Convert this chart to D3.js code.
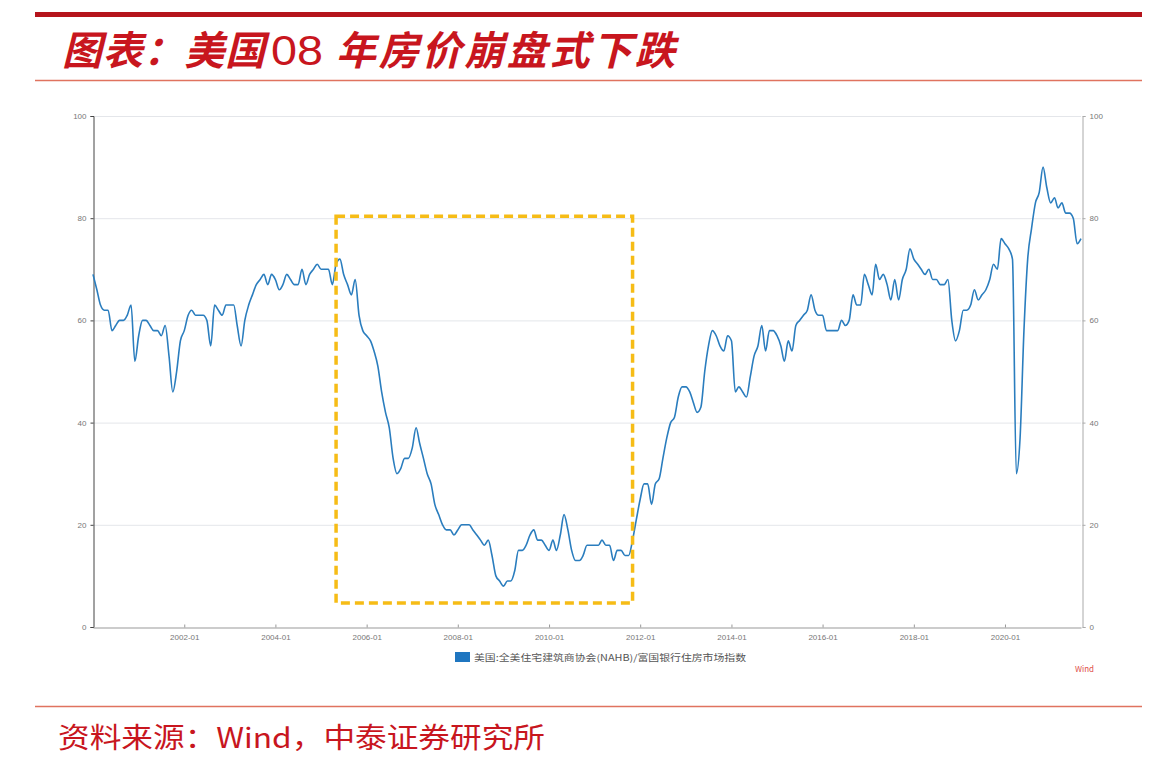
<!DOCTYPE html>
<html>
<head>
<meta charset="utf-8">
<script src="https://cdn.jsdelivr.net/npm/d3@7"></script>
<style>
  body { margin: 0; background: #fff; }
  svg { display: block; font-family: "Noto Sans CJK SC", "Noto Sans", sans-serif; }
</style>
</head>
<body>
<svg id="chart" width="1172" height="764"></svg>
<script>
// NAHB/Wells Fargo housing market index, monthly from 2000-01
const startMonth = "2000-01";
const hmi = [
  69, 66, 63, 62, 62, 58, 59, 60, 60, 61, 63, 52,
  57, 60, 60, 59, 58, 58, 57, 59, 53, 46, 50, 56,
  58, 61, 62, 61, 61, 61, 60, 55, 63, 62, 61, 63,
  63, 63, 59, 55, 60, 63, 65, 67, 68, 69, 67, 69,
  68, 66, 67, 69, 68, 67, 67, 70, 67, 69, 70, 71,
  70, 70, 70, 67, 71, 72, 69, 67, 65, 68, 61, 58,
  57, 56, 54, 51, 46, 42, 39, 33, 30, 31, 33, 33,
  35, 39, 36, 33, 30, 28, 24, 22, 20, 19, 19, 18,
  19, 20, 20, 20, 19, 18, 17, 16, 17, 14, 10, 9,
  8, 9, 9, 11, 15, 15, 16, 18, 19, 17, 17, 16,
  15, 17, 15, 18, 22, 19, 15, 13, 13, 14, 16, 16,
  16, 16, 17, 16, 16, 13, 15, 15, 14, 14, 17, 21,
  25, 28, 28, 24, 28, 29, 33, 37, 40, 41, 45, 47,
  47, 46, 44, 42, 43, 50, 55, 58, 57, 55, 54, 57,
  56, 46, 47, 46, 45, 49, 53, 55, 59, 54, 58, 58,
  57, 55, 52, 56, 54, 59, 60, 61, 62, 65, 62, 61,
  61, 58, 58, 58, 58, 60, 59, 60, 65, 63, 63, 69,
  67, 65, 71, 68, 69, 67, 64, 68, 64, 68, 70, 74,
  72, 71, 70, 69, 70, 68, 68, 67, 67, 68, 60, 56,
  58, 62, 62, 63, 66, 64, 65, 66, 68, 71, 70, 76,
  75, 74, 72, 30, 37, 58, 72, 78, 83, 85, 90, 86,
  83, 84, 82, 83, 81, 81, 80, 75, 76
];
const xTickLabels = ["2002-01", "2004-01", "2006-01", "2008-01", "2010-01",
                     "2012-01", "2014-01", "2016-01", "2018-01", "2020-01"];
const yTicks = [0, 20, 40, 60, 80, 100];
const boxMonths = ["2005-05", "2011-11"];
const boxValues = [80.4, 4.7];
const seriesName = "美国:全美住宅建筑商协会(NAHB)/富国银行住房市场指数";

const svg = d3.select("#chart");
const parse = d3.timeParse("%Y-%m");
const fmt = d3.timeFormat("%Y-%m");
const t0 = parse(startMonth);
const data = hmi.map((v, i) => ({ date: d3.timeMonth.offset(t0, i), value: v }));

const plot = { left: 93, right: 1081, top: 116, bottom: 627 };

const x = d3.scaleTime()
  .domain([t0, data[data.length - 1].date])
  .range([plot.left, plot.right]);
const y = d3.scaleLinear()
  .domain([0, 100])
  .range([plot.bottom, plot.top]);

// header / footer rules
svg.append("rect").attr("x", 35).attr("y", 12).attr("width", 1107).attr("height", 5).attr("fill", "#B5141C");
svg.append("line").attr("x1", 35).attr("x2", 1142).attr("y1", 80.5).attr("y2", 80.5)
  .attr("stroke", "#E0735F").attr("stroke-width", 1.4);
svg.append("line").attr("x1", 35).attr("x2", 1142).attr("y1", 706.5).attr("y2", 706.5)
  .attr("stroke", "#E0735F").attr("stroke-width", 1.4);

const title = svg.append("text")
  .attr("y", 65)
  .attr("font-size", 40)
  .attr("fill", "#C8161E");
title.append("tspan").attr("x", 62)
  .attr("font-style", "italic").attr("font-weight", 700)
  .attr("textLength", 203).attr("lengthAdjust", "spacing")
  .text("图表：美国");
title.append("tspan").attr("x", 271)
  .attr("font-family", "'Liberation Sans', Arial, sans-serif")
  .attr("font-weight", 400).attr("font-size", 42)
  .attr("textLength", 52).attr("lengthAdjust", "spacingAndGlyphs")
  .text("08");
title.append("tspan").attr("x", 336)
  .attr("font-style", "italic").attr("font-weight", 700)
  .attr("textLength", 339).attr("lengthAdjust", "spacing")
  .text("年房价崩盘式下跌");

svg.append("text")
  .attr("x", 58).attr("y", 748)
  .attr("font-size", 28)
  .attr("fill", "#C8161E")
  .attr("textLength", 487).attr("lengthAdjust", "spacingAndGlyphs")
  .text("资料来源：Wind，中泰证券研究所");

// gridlines
svg.append("g")
  .selectAll("line")
  .data(yTicks.filter(d => d > 0))
  .enter()
  .append("line")
  .attr("x1", plot.left).attr("x2", plot.right)
  .attr("y1", d => y(d) + 0.5).attr("y2", d => y(d) + 0.5)
  .attr("stroke", "#e4e6ea").attr("stroke-width", 1);

// axes
const leftAxis = svg.append("g")
  .attr("transform", "translate(" + (plot.left + 0.5) + ",0)")
  .call(d3.axisLeft(y).tickValues(yTicks).tickSize(3).tickPadding(4));
leftAxis.select(".domain").attr("stroke", "#444");
leftAxis.selectAll(".tick line").attr("stroke", "#444");
leftAxis.selectAll("text").attr("font-size", 8).attr("fill", "#777");

const rightAxis = svg.append("g")
  .attr("transform", "translate(" + (plot.right + 1.5) + ",0)")
  .call(d3.axisRight(y).tickValues(yTicks).tickSize(3).tickPadding(4));
rightAxis.select(".domain").attr("stroke", "#aaa");
rightAxis.selectAll(".tick line").attr("stroke", "#aaa");
rightAxis.selectAll("text").attr("font-size", 8).attr("fill", "#777");

const bottomAxis = svg.append("g")
  .attr("transform", "translate(0," + (plot.bottom + 0.5) + ")")
  .call(d3.axisBottom(x)
    .tickValues(xTickLabels.map(parse))
    .tickFormat(fmt)
    .tickSizeInner(-3).tickSizeOuter(0).tickPadding(7));
bottomAxis.select(".domain").attr("stroke", "#999");
bottomAxis.selectAll(".tick line").attr("stroke", "#999");
bottomAxis.selectAll("text").attr("font-size", 8).attr("fill", "#777");

// series line
const line = d3.line()
  .x(d => x(d.date))
  .y(d => y(d.value))
  .curve(d3.curveMonotoneX);

svg.append("path")
  .datum(data)
  .attr("fill", "none")
  .attr("stroke", "#2A7DBE")
  .attr("stroke-width", 1.6)
  .attr("stroke-linejoin", "round")
  .attr("d", line);

// highlight box around the crash
const bx0 = x(parse(boxMonths[0])), bx1 = x(parse(boxMonths[1]));
const by0 = y(boxValues[0]), by1 = y(boxValues[1]);
svg.append("rect")
  .attr("x", bx0).attr("y", by0)
  .attr("width", bx1 - bx0).attr("height", by1 - by0)
  .attr("fill", "none")
  .attr("stroke", "#F6BC16")
  .attr("stroke-width", 3.5)
  .attr("stroke-dasharray", "9,5");

// legend
const legend = svg.append("g").attr("transform", "translate(455,652)");
legend.append("rect").attr("width", 15).attr("height", 10).attr("fill", "#1F76C0");
legend.append("text")
  .attr("x", 19).attr("y", 8.5)
  .attr("font-size", 9).attr("fill", "#555")
  .attr("textLength", 272).attr("lengthAdjust", "spacingAndGlyphs")
  .text(seriesName);

svg.append("text")
  .attr("x", 1075).attr("y", 672)
  .attr("font-size", 8).attr("fill", "#E0504A")
  .text("Wind");
</script>
</body>
</html>
